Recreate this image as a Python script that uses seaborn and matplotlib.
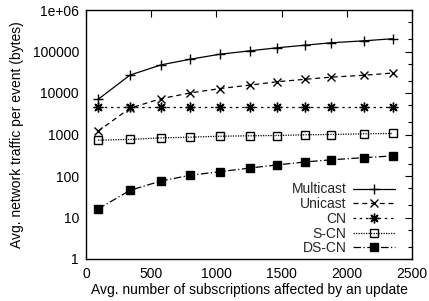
import matplotlib
matplotlib.use("Agg")
import matplotlib.pyplot as plt
import matplotlib.ticker as mticker
import seaborn as sns
import pandas as pd

sns.set_theme(style="white")
plt.rcParams['font.family'] = ['Liberation Sans', 'DejaVu Sans']

subs = [92, 337, 575, 797, 1028, 1258, 1467, 1680, 1876, 2132, 2352]
multicast = [7000, 27000, 47500, 65000, 86000, 104000, 123000, 142000, 162000, 181000, 203000]
unicast = [1200, 4300, 7300, 10000, 12800, 15500, 18700, 21400, 24000, 26800, 30300]
cn = [4600] * 11
s_cn = [730, 760, 830, 860, 910, 930, 945, 985, 1000, 1040, 1060]
ds_cn = [16, 45, 76, 104, 127, 156, 185, 218, 245, 277, 305]

series_names = ["Multicast", "Unicast", "CN", "S-CN", "DS-CN"]
series_vals = [multicast, unicast, cn, s_cn, ds_cn]

rows = []
for name, vals in zip(series_names, series_vals):
    for x, y in zip(subs, vals):
        rows.append({"subs": x, "traffic": y, "series": name})
df = pd.DataFrame(rows)

styles = {
    "Multicast": dict(marker="+", linestyle="-", markersize=7, mew=1.0),
    "Unicast": dict(marker="x", linestyle=(0, (4, 3)), markersize=6, mew=1.0),
    "CN": dict(marker=(8, 2, 0), linestyle=(0, (2, 3)), markersize=7, mew=1.0),
    "S-CN": dict(marker="s", linestyle=(0, (1, 1)), markersize=6, mew=1.0,
                 markerfacecolor="none"),
    "DS-CN": dict(marker="s", linestyle=(0, (6, 2, 1, 2)), markersize=6, mew=1.0),
}

fig = plt.figure(figsize=(4.29, 3.01), dpi=100)
ax = fig.add_axes([86/429, 1-259/301, (412-86)/429, (259-10)/301])

for name in series_names:
    sub = df[df["series"] == name]
    st = styles[name]
    sns.lineplot(x=sub["subs"], y=sub["traffic"], ax=ax, color="black",
                 linewidth=0.9, label=name, markeredgecolor="black", **st)

ax.set_yscale("log")
ax.set_xlim(0, 2500)
ax.set_ylim(1, 1e6)
ax.set_xticks([0, 500, 1000, 1500, 2000, 2500])
ax.set_yticks([1, 10, 100, 1000, 10000, 100000, 1000000])
ax.yaxis.set_major_formatter(mticker.FixedFormatter(
    ["1", "10", "100", "1000", "10000", "100000", "1e+06"]))
ax.yaxis.set_minor_locator(mticker.LogLocator(base=10, subs=(2, 5), numticks=20))
ax.yaxis.set_minor_formatter(mticker.NullFormatter())
ax.tick_params(axis="both", which="both", direction="in", top=True, right=True,
               colors="black", labelsize=10)
ax.tick_params(axis="y", which="major", pad=5)
ax.tick_params(axis="x", which="major", pad=6)
ax.tick_params(axis="both", which="major", length=5, width=0.8)
ax.tick_params(axis="both", which="minor", length=3, width=0.8)
for sp in ax.spines.values():
    sp.set_color("black")
    sp.set_linewidth(1.0)

ax.set_xlabel("Avg. number of subscriptions affected by an update", fontsize=10,
              labelpad=1, color="black")
ax.set_ylabel("Avg. network traffic per event (bytes)", fontsize=10,
              labelpad=6, color="black")

leg = ax.legend(loc="lower right", bbox_to_anchor=(0.948, 0.015), frameon=False,
                markerfirst=False, handlelength=3.0, labelspacing=0.05,
                borderpad=0, borderaxespad=0, handletextpad=0.5, fontsize=10)

fig.savefig("out.png", dpi=100)
